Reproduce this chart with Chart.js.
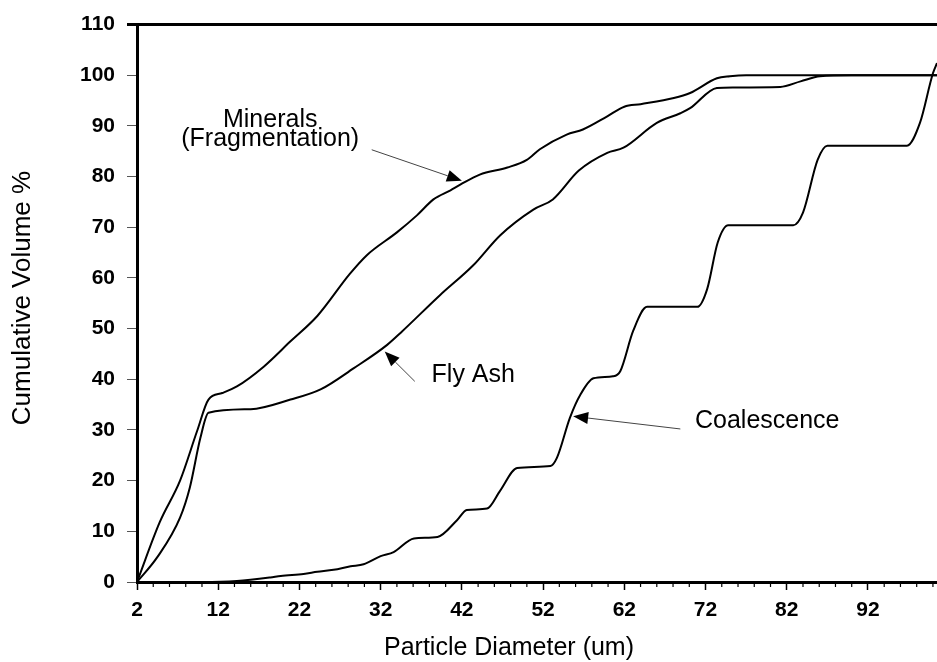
<!DOCTYPE html>
<html>
<head>
<meta charset="utf-8">
<script src="https://cdn.jsdelivr.net/npm/chart.js@4/dist/chart.umd.min.js"></script>
<style>
  body { margin: 0; background: #fff; }
  canvas { display: block; }
</style>
</head>
<body>
<canvas id="psdChart" width="937" height="662"></canvas>
<script>
// particle size distributions
const minX = [2, 4.8, 7.3, 9.4, 10.8, 12.5, 14.3, 17.6, 20.9, 24.2, 28.2, 30.3, 34, 36.5, 38.5, 40.6, 41.8, 44.2, 47.6, 50, 51.6, 54.9, 56.9, 59.9, 62, 64, 68.1, 70.1, 73.4, 75, 77, 85, 100.5];
const minY = [0, 11.8, 20, 29.8, 36, 37.3, 38.6, 42.5, 47.5, 52.5, 60.8, 64.5, 69, 72.4, 75.5, 77.3, 78.4, 80.4, 81.8, 83.3, 85.4, 88.3, 89.3, 91.9, 93.8, 94.3, 95.5, 96.5, 99.4, 99.8, 100, 100, 100];

const flyX = [2, 4.5, 7.3, 8.5, 9.8, 10.8, 16, 20.9, 24.6, 28.7, 32.8, 34.6, 39.3, 43.4, 46.7, 50.8, 53.2, 56.4, 59.9, 61.9, 66, 68.9, 70.1, 73.4, 75.4, 81.2, 83.7, 86.1, 90, 100.5];
const flyY = [0, 4.9, 12.7, 18.6, 28.4, 33.4, 34.1, 36, 38, 42.2, 46.8, 49.4, 56.6, 62.5, 68.4, 73.5, 75.5, 81.2, 84.7, 85.7, 90.6, 92.5, 93.5, 97.5, 97.6, 97.7, 98.8, 99.8, 100, 100];

const coalX = [2, 10, 14.3, 18.4, 19.7, 22.5, 24.2, 26.2, 28.3, 29.9, 32, 33.6, 36.1, 39, 41.4, 42.6, 45.1, 46.7, 48.8, 52.9, 53.7, 55.3, 56.6, 58.2, 60.6, 61.5, 63.1, 64.8, 71, 72.2, 73.5, 74.8, 82.8, 84, 85.8, 87, 96.8, 98.4, 100, 100.5];
const coalY = [0, 0, 0.2, 0.9, 1.2, 1.6, 2, 2.4, 3.1, 3.5, 5.1, 5.9, 8.6, 8.9, 12.2, 14.2, 14.5, 18, 22.5, 22.9, 24.5, 32.4, 37, 40.2, 40.6, 41.6, 49.6, 54.3, 54.3, 57.8, 67, 70.4, 70.4, 72.9, 83.3, 86.1, 86.1, 90.6, 100.4, 102.4];

const xTicks = [2, 12, 22, 32, 42, 52, 62, 72, 82, 92];
const xMinorStep = 2;

// annotation text + arrows in data units
const notes = [
  { lines: ['Minerals', '(Fragmentation)'], x: 18.4, y: 91.2, from: [30.9, 85.3], to: [42.0, 79.2] },
  { lines: ['Fly Ash'], x: 43.4, y: 40.8, from: [36.2, 39.6], to: [32.5, 45.5] },
  { lines: ['Coalescence'], x: 79.6, y: 31.8, from: [68.9, 30.2], to: [55.7, 32.7] }
];

function toPoints(xs, ys) {
  return xs.map((x, i) => ({ x: x, y: ys[i] }));
}

const FONT = '"Liberation Sans", Arial, Helvetica, sans-serif';

const decorPlugin = {
  id: 'decor',
  afterDraw(chart) {
    const ctx = chart.ctx;
    const xs = chart.scales.x, ys = chart.scales.y;
    const area = chart.chartArea;
    ctx.save();

    // top frame line
    ctx.strokeStyle = '#000';
    ctx.lineWidth = 3;
    ctx.beginPath();
    ctx.moveTo(area.left - 10, area.top);
    ctx.lineTo(area.right, area.top);
    ctx.stroke();

    // minor ticks on x axis
    ctx.lineWidth = 1.2;
    for (let v = xTicks[0]; v <= xs.max; v += xMinorStep) {
      if (xTicks.includes(v)) continue;
      const px = xs.getPixelForValue(v);
      ctx.beginPath();
      ctx.moveTo(px, area.bottom);
      ctx.lineTo(px, area.bottom + 5);
      ctx.stroke();
    }

    // annotations
    ctx.fillStyle = '#000';
    ctx.font = '25px ' + FONT;
    ctx.textAlign = 'center';
    ctx.textBaseline = 'middle';
    notes.forEach(n => {
      const cx = xs.getPixelForValue(n.x);
      const cy = ys.getPixelForValue(n.y);
      n.lines.forEach((t, i) => ctx.fillText(t, cx, cy + i * 19));

      const x1 = xs.getPixelForValue(n.from[0]), y1 = ys.getPixelForValue(n.from[1]);
      const x2 = xs.getPixelForValue(n.to[0]), y2 = ys.getPixelForValue(n.to[1]);
      const ang = Math.atan2(y2 - y1, x2 - x1);
      const headLen = 15, headW = 6;
      ctx.strokeStyle = '#444';
      ctx.lineWidth = 1;
      ctx.beginPath();
      ctx.moveTo(x1, y1);
      ctx.lineTo(x2 - headLen * Math.cos(ang), y2 - headLen * Math.sin(ang));
      ctx.stroke();
      ctx.beginPath();
      ctx.moveTo(x2, y2);
      ctx.lineTo(x2 - headLen * Math.cos(ang) + headW * Math.sin(ang), y2 - headLen * Math.sin(ang) - headW * Math.cos(ang));
      ctx.lineTo(x2 - headLen * Math.cos(ang) - headW * Math.sin(ang), y2 - headLen * Math.sin(ang) + headW * Math.cos(ang));
      ctx.closePath();
      ctx.fill();
    });

    // axis titles
    ctx.font = '25px ' + FONT;
    ctx.fillText('Particle Diameter (um)', 509, 648);
    ctx.font = '26px ' + FONT;
    ctx.translate(23, 298);
    ctx.rotate(-Math.PI / 2);
    ctx.fillText('Cumulative Volume %', 0, 0);
    ctx.restore();
  }
};

const lineStyle = {
  borderColor: '#000',
  borderWidth: 2,
  pointRadius: 0,
  fill: false,
  cubicInterpolationMode: 'monotone'
};

new Chart(document.getElementById('psdChart'), {
  type: 'line',
  data: {
    datasets: [
      { label: 'Minerals (Fragmentation)', data: toPoints(minX, minY), ...lineStyle },
      { label: 'Fly Ash', data: toPoints(flyX, flyY), ...lineStyle },
      { label: 'Coalescence', data: toPoints(coalX, coalY), ...lineStyle }
    ]
  },
  options: {
    responsive: false,
    devicePixelRatio: 1,
    animation: false,
    layout: { padding: { top: 21, right: 0, left: 0, bottom: 0 } },
    plugins: {
      legend: { display: false },
      tooltip: { enabled: false }
    },
    scales: {
      x: {
        type: 'linear',
        min: 2,
        max: 100.5,
        afterBuildTicks: scale => { scale.ticks = xTicks.map(v => ({ value: v })); },
        afterFit: scale => { scale.height = 80; },
        grid: { drawOnChartArea: false, drawTicks: true, tickLength: 8, tickWidth: 1.5, tickColor: '#000' },
        border: { display: true, width: 3, color: '#000' },
        ticks: { color: '#000', padding: 8, maxRotation: 0, autoSkip: false, font: { family: FONT, size: 21, weight: 'bold' } }
      },
      y: {
        min: 0,
        max: 110,
        afterFit: scale => { scale.width = 137; },
        grid: { drawOnChartArea: false, drawTicks: true, tickLength: 10, tickWidth: 1, tickColor: '#555' },
        border: { display: true, width: 3, color: '#000' },
        ticks: { stepSize: 10, color: '#000', padding: 12, font: { family: FONT, size: 21, weight: 'bold' } }
      }
    }
  },
  plugins: [decorPlugin]
});
</script>
</body>
</html>
